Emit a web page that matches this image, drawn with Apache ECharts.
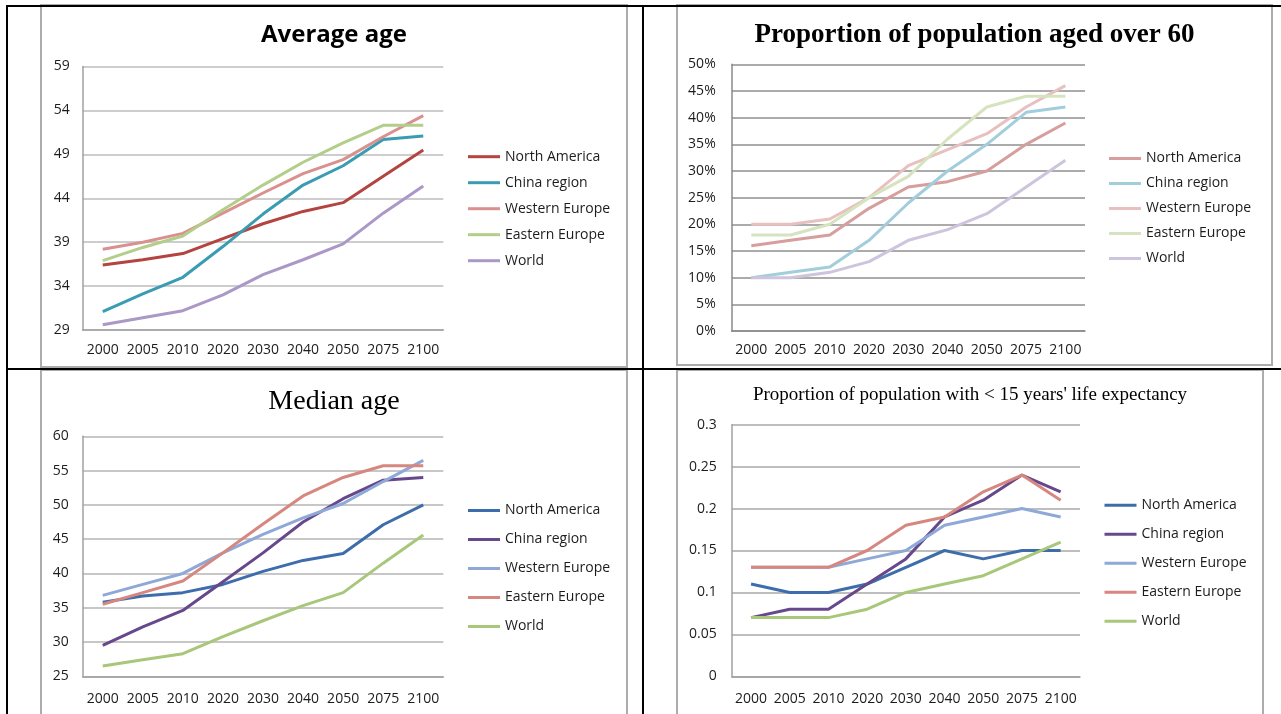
<!DOCTYPE html>
<html>
<head>
<meta charset="utf-8">
<script src="https://cdn.jsdelivr.net/npm/echarts@6/dist/echarts.min.js"></script>
<style>
  html, body { margin:0; padding:0; background:#fff; width:1281px; height:714px; overflow:hidden; position:relative; }
  .blk { position:absolute; background:#000; }
  .frame { position:absolute; border:2px solid #acacac; box-sizing:border-box; }
  .chart { position:absolute; }
</style>
</head>
<body>
<div class="frame" style="left:40px;top:4px;width:588px;height:364px;"></div>
<div class="frame" style="left:676px;top:4px;width:597px;height:362px;"></div>
<div class="frame" style="left:40px;top:369px;width:588px;height:360px;"></div>
<div class="frame" style="left:676px;top:369px;width:588px;height:360px;"></div>

<div id="c1" class="chart" style="left:41px;top:6px;width:586px;height:361px;"></div>
<div id="c2" class="chart" style="left:677px;top:6px;width:595px;height:359px;"></div>
<div id="c3" class="chart" style="left:41px;top:370px;width:586px;height:344px;"></div>
<div id="c4" class="chart" style="left:677px;top:370px;width:586px;height:344px;"></div>

<div class="blk" style="left:6px;top:5px;width:1275px;height:2px;"></div>
<div class="blk" style="left:6px;top:5px;width:2px;height:709px;"></div>
<div class="blk" style="left:642px;top:5px;width:2px;height:709px;"></div>
<div class="blk" style="left:6px;top:368px;width:1275px;height:2px;"></div>

<script>
// ---- data ----
const years = ['2000','2005','2010','2020','2030','2040','2050','2075','2100'];
const regions = ['North America','China region','Western Europe','Eastern Europe','World'];

// Average age
const avgNorthAmerica = [36.4, 37.0, 37.7, 39.4, 41.1, 42.5, 43.5, 46.5, 49.5];
const avgChina        = [31.1, 33.1, 35.0, 38.5, 42.2, 45.5, 47.7, 50.7, 51.1];
const avgWestEurope   = [38.2, 39.0, 40.0, 42.3, 44.6, 46.8, 48.4, 51.0, 53.4];
const avgEastEurope   = [36.9, 38.4, 39.7, 42.7, 45.5, 48.1, 50.3, 52.3, 52.3];
const avgWorld        = [29.6, 30.4, 31.2, 33.0, 35.3, 37.0, 38.8, 42.3, 45.4];

// Proportion aged over 60 (%)
const o60NorthAmerica = [16, 17, 18, 23, 27, 28, 30, 35, 39];
const o60China        = [10, 11, 12, 17, 24, 30, 35, 41, 42];
const o60WestEurope   = [20, 20, 21, 25, 31, 34, 37, 42, 46];
const o60EastEurope   = [18, 18, 20, 25, 29, 36, 42, 44, 44];
const o60World        = [10, 10, 11, 13, 17, 19, 22, 27, 32];

// Median age
const medNorthAmerica = [35.8, 36.7, 37.2, 38.4, 40.3, 41.9, 42.9, 47.1, 50.0];
const medChina        = [29.5, 32.2, 34.6, 38.8, 43.0, 47.5, 50.9, 53.6, 54.0];
const medWestEurope   = [36.8, 38.4, 40.0, 43.0, 45.7, 48.1, 50.2, 53.4, 56.5];
const medEastEurope   = [35.5, 37.2, 38.9, 43.0, 47.2, 51.3, 54.0, 55.7, 55.7];
const medWorld        = [26.5, 27.4, 28.3, 30.8, 33.1, 35.3, 37.2, 41.5, 45.6];

// Proportion with < 15 years' life expectancy
const leNorthAmerica = [0.11, 0.10, 0.10, 0.11, 0.13, 0.15, 0.14, 0.15, 0.15];
const leChina        = [0.07, 0.08, 0.08, 0.11, 0.14, 0.19, 0.21, 0.24, 0.22];
const leWestEurope   = [0.13, 0.13, 0.13, 0.14, 0.15, 0.18, 0.19, 0.20, 0.19];
const leEastEurope   = [0.13, 0.13, 0.13, 0.15, 0.18, 0.19, 0.22, 0.24, 0.21];
const leWorld        = [0.07, 0.07, 0.07, 0.08, 0.10, 0.11, 0.12, 0.14, 0.16];

const sans = 'Open Sans';
const serif = 'Liberation Serif';
const txt = '#1c1c1c';

function build(cfg) {
  const chart = echarts.init(document.getElementById(cfg.id), null, {renderer:'canvas'});
  const series = cfg.data.map((d, i) => ({
    name: regions[i], type:'line', data:d, symbol:'none', showSymbol:false,
    lineStyle:{ width:3, color:cfg.colors[i] }, itemStyle:{ color:cfg.colors[i] },
    animation:false
  }));
  chart.setOption({
    animation:false,
    title:{ text:cfg.title, left:'center', top:cfg.titleTop, padding:0,
      textStyle:{ fontFamily:cfg.titleFont, fontSize:cfg.titleSize, fontWeight:cfg.titleWeight, color:'#000' } },
    legend:{ orient:'vertical', left:cfg.legLeft, top:cfg.legTop, padding:0, itemWidth:32, itemHeight:14, itemGap:cfg.legGap,
      selectedMode:false,
      data: regions.map((r,i)=>({ name:r, icon:'path://M0,6 L32,6 L32,9 L0,9 Z', itemStyle:{ color:cfg.colors[i] } })),
      textStyle:{ fontFamily:sans, fontSize:14, color:txt, lineHeight:14 } },
    grid:{ left:cfg.grid[0], top:cfg.grid[1], width:cfg.grid[2], height:cfg.grid[3], containLabel:false },
    xAxis:{ type:'category', data:years, boundaryGap:true,
      axisLine:{ lineStyle:{ color:cfg.axisColor, width:1.5 } }, axisTick:{ show:false },
      axisLabel:{ fontFamily:sans, fontSize:14, color:txt, margin:cfg.xMargin, interval:0 } },
    yAxis:{ type:'value', min:cfg.min, max:cfg.max, interval:cfg.interval,
      axisLine:{ show:true, lineStyle:{ color:cfg.axisColor, width:1.5 } }, axisTick:{ show:false },
      splitLine:{ lineStyle:{ color:cfg.gridColor, width:1.5 } },
      axisLabel:{ fontFamily:sans, fontSize:14, color:txt, margin:cfg.yMargin, formatter:cfg.fmt } },
    series: series
  });
}

build({ id:'c1', title:'Average age', titleFont:sans, titleSize:24, titleWeight:'bold', titleTop:17,
  data:[avgNorthAmerica, avgChina, avgWestEurope, avgEastEurope, avgWorld],
  colors:['#B3443F','#3A9CB3','#D9918F','#B3CE8A','#AA98C6'],
  grid:[41.7, 60.5, 360.6, 263.5], min:29, max:59, interval:5, fmt:'{value}',
  legLeft:427, legTop:143.7, legGap:12, axisColor:'#a0a0a0', gridColor:'#bcbcbc', xMargin:13, yMargin:13 });

build({ id:'c2', title:'Proportion of population aged over 60', titleFont:serif, titleSize:27, titleWeight:'bold', titleTop:16,
  data:[o60NorthAmerica, o60China, o60WestEurope, o60EastEurope, o60World],
  colors:['#D69E9C','#A2CEDC','#E8C0C0','#D6E3BF','#CDC5DD'],
  grid:[54.7, 58.3, 353.3, 266.7], min:0, max:50, interval:5, fmt:'{value}%',
  legLeft:432, legTop:145.5, legGap:11, axisColor:'#8a8a8a', gridColor:'#8f8f8f', xMargin:12, yMargin:16 });

build({ id:'c3', title:'Median age', titleFont:serif, titleSize:28, titleWeight:'normal', titleTop:18,
  data:[medNorthAmerica, medChina, medWestEurope, medEastEurope, medWorld],
  colors:['#3E6DAC','#68488C','#8EA9D7','#D6877F','#A9C77B'],
  grid:[41.7, 66.3, 360.6, 240], min:25, max:60, interval:5, fmt:'{value}',
  legLeft:427, legTop:133.5, legGap:15, axisColor:'#a0a0a0', gridColor:'#b4b4b4', xMargin:16, yMargin:14 });

build({ id:'c4', title:"Proportion of population with < 15 years' life expectancy", titleFont:serif, titleSize:19, titleWeight:'normal', titleTop:16,
  data:[leNorthAmerica, leChina, leWestEurope, leEastEurope, leWorld],
  colors:['#3E6DAC','#68488C','#8EA9D7','#D6877F','#A9C77B'],
  grid:[54.7, 54.7, 348.3, 251.6], min:0, max:0.3, interval:0.05, fmt:null,
  legLeft:427.5, legTop:128.3, legGap:15, axisColor:'#a0a0a0', gridColor:'#a8a8a8', xMargin:16, yMargin:15 });
</script>
</body>
</html>
